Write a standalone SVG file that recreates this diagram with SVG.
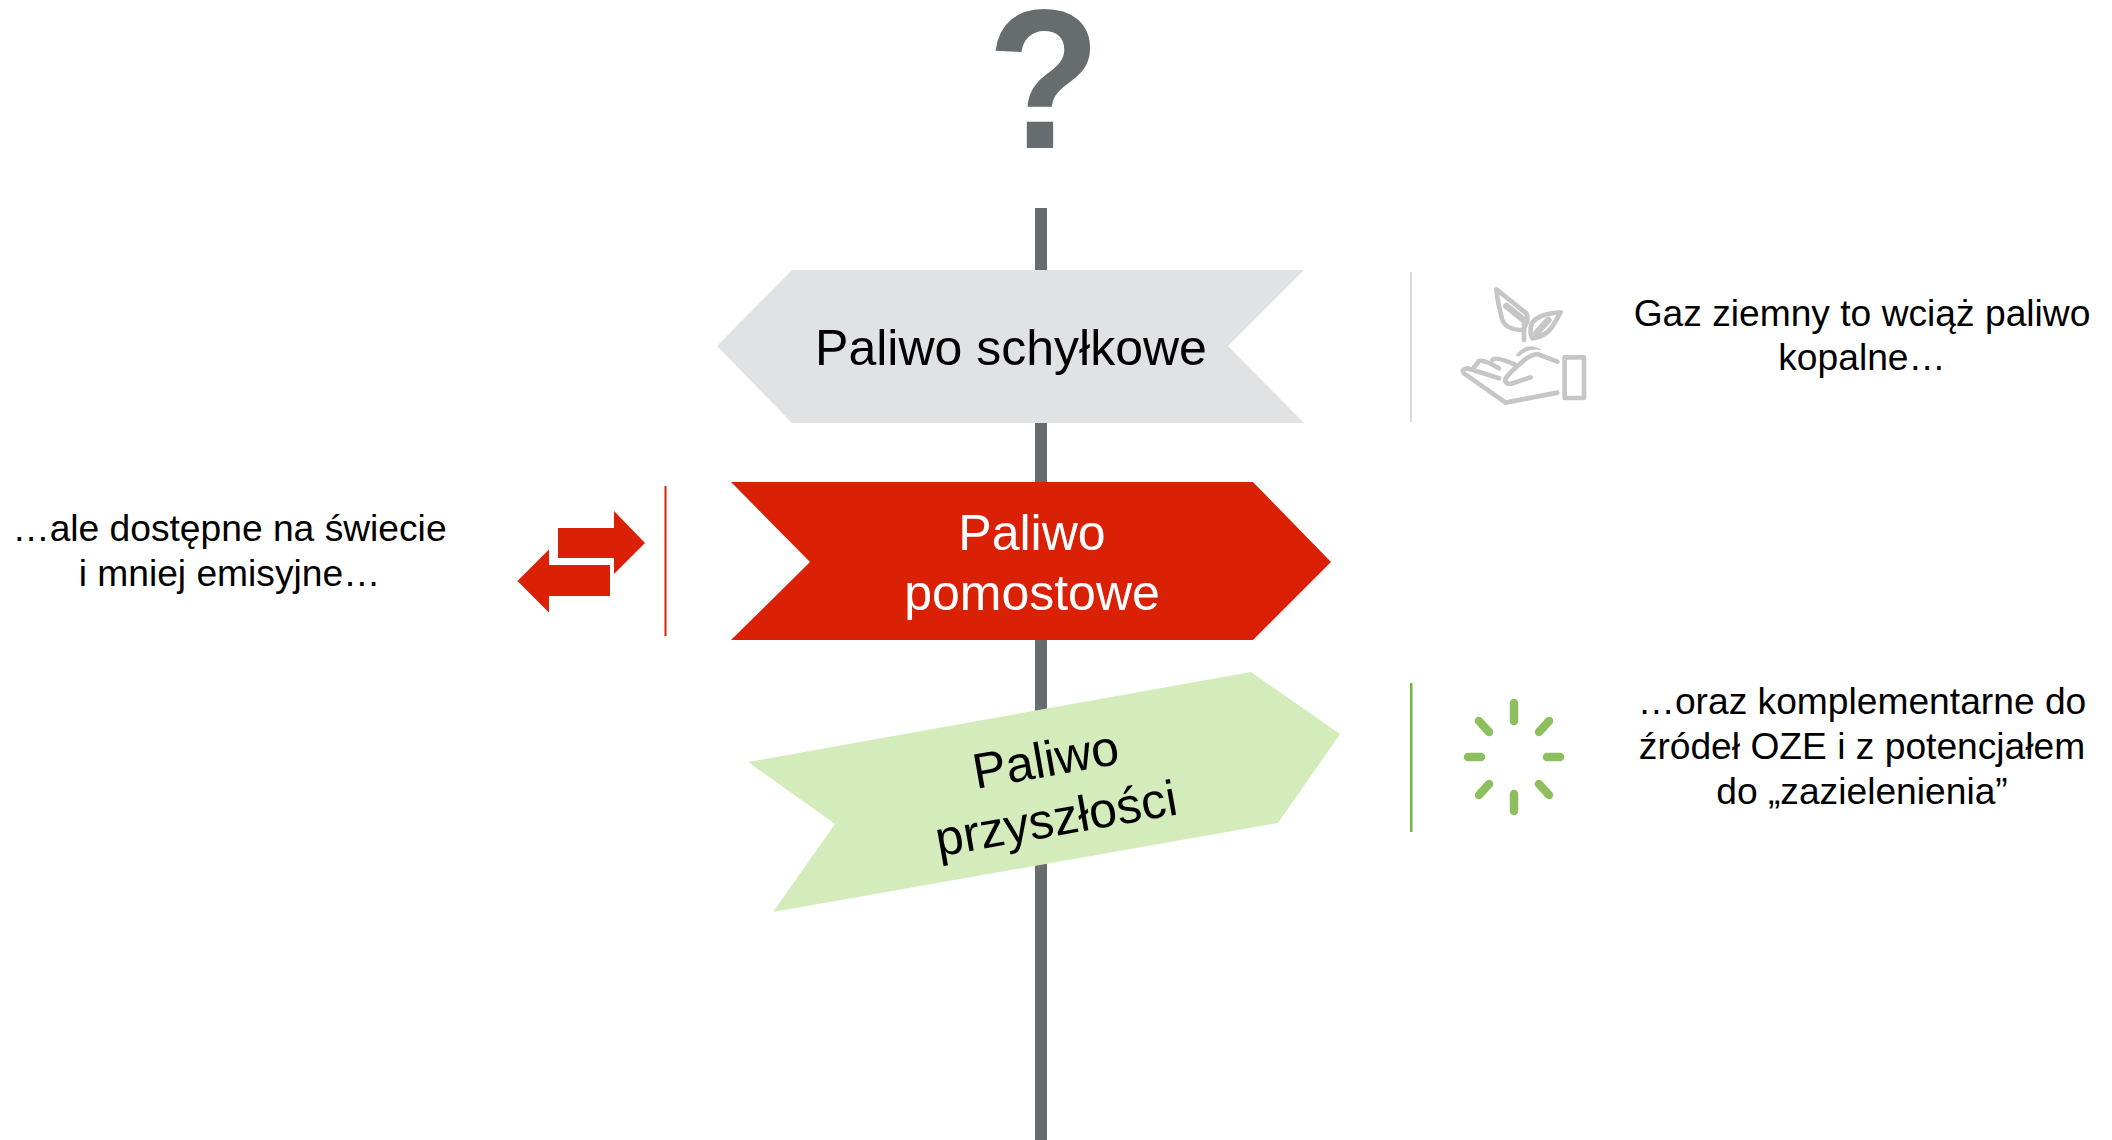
<svg xmlns="http://www.w3.org/2000/svg" width="2112" height="1140" viewBox="0 0 2112 1140">
<style>
text{font-family:"Liberation Sans",Arial,sans-serif;text-anchor:middle;fill:#000}
.big{font-size:50px}
.small{font-size:37.2px}
.ic{fill:none;stroke:#c6c6c6;stroke-width:14;stroke-linecap:round;stroke-linejoin:round}
.sp{stroke:#8dbf5e;stroke-width:8.500;stroke-linecap:round}
</style>
<rect width="2112" height="1140" fill="#fff"/>
<g id="pole"><rect x="1035" y="208" width="12" height="932" fill="#676c6e"/></g>
<g id="question-mark"><text transform="translate(1044,147.500) scale(.97,1.03)" x="0" y="0" style="font-size:192px;font-weight:700;fill:#676c6e">?</text></g>
<g id="sign-schylkowe">
<polygon points="717,346 792,270 1304,270 1228,346 1304,423 792,423" fill="#e1e2e4"/>
<text class="big" x="1011" y="365">Paliwo schyłkowe</text>
</g>
<g id="sign-pomostowe">
<polygon points="731,482 1253,482 1331,562 1253,640 731,640 810,562" fill="#da2005"/>
<text class="big" x="1032" y="550" style="fill:#fff">Paliwo</text>
<text class="big" x="1032" y="610" style="fill:#fff">pomostowe</text>
</g>
<g id="sign-przyszlosci">
<polygon points="748,762 1251,672 1340,734 1278,823 773,912 835,824" fill="#d4ecbb"/>
<g transform="rotate(-10 1051 790)">
<text class="big" x="1051" y="776">Paliwo</text>
<text class="big" x="1051" y="836">przyszłości</text>
</g>
</g>
<g id="note-gaz">
<rect x="1410" y="272" width="2" height="150" fill="#dcdcdc"/>
<g transform="translate(1449,280) scale(.3333)">
<path class="ic" d="M142,28 L232,100 Q242,118 222,150 Q172,150 160,120 Q146,70 142,28Z"/>
<path class="ic" style="stroke-width:20" d="M172,78 L222,118"/>
<path class="ic" d="M225,180 L225,120"/>
<path class="ic" d="M335,97 Q270,100 248,130 Q240,160 250,175 Q290,170 310,140 Q325,115 335,97Z"/>
<path class="ic" style="stroke-width:20" d="M262,160 L298,120"/>
<path d="M200,226 Q235,182 278,210 Q235,202 210,230Z" fill="#c6c6c6"/>
<path class="ic" d="M325,245 L265,222 Q240,225 215,250 Q185,275 170,295 Q165,312 185,312 L245,292"/>
<path class="ic" d="M325,338 L170,368 L45,280 Q35,268 55,265 L150,295"/>
<path class="ic" d="M75,262 L90,243 Q105,238 150,265"/>
<path class="ic" d="M130,240 Q140,228 200,255"/>
<rect class="ic" x="347" y="232" width="58" height="122"/>
</g>
<text class="small" x="1862" y="326">Gaz ziemny to wciąż paliwo</text>
<text class="small" x="1862" y="370">kopalne…</text>
</g>
<g id="note-dostepne">
<rect x="664.500" y="486" width="2" height="150" fill="#da2005"/>
<polygon points="558,528 614,528 614,511 645,543 614,574 614,558 558,558" fill="#da2005"/>
<polygon points="611,564 550,564 550,547 516,581 550,615 550,597 611,597" fill="#da2005" stroke="#fff" stroke-width="2"/>
<text class="small" x="229.500" y="541">…ale dostępne na świecie</text>
<text class="small" x="229.500" y="586">i mniej emisyjne…</text>
</g>
<g id="note-oze">
<rect x="1410" y="683" width="2.500" height="149" fill="#7cb342"/>
<g transform="translate(1514,757)">
<line class="sp" x1="0" y1="-54" x2="0" y2="-36"/>
<line class="sp" x1="0" y1="54" x2="0" y2="37"/>
<line class="sp" x1="-46" y1="0" x2="-33" y2="0"/>
<line class="sp" x1="46" y1="0" x2="33" y2="0"/>
<line class="sp" x1="25" y1="-25" x2="35" y2="-36"/>
<line class="sp" x1="-25" y1="-25" x2="-35" y2="-36"/>
<line class="sp" x1="25" y1="27" x2="35" y2="38"/>
<line class="sp" x1="-25" y1="27" x2="-35" y2="38"/>
</g>
<text class="small" x="1862" y="714">…oraz komplementarne do</text>
<text class="small" x="1862" y="759">źródeł OZE i z potencjałem</text>
<text class="small" x="1862" y="804">do „zazielenienia”</text>
</g>
<g id="connectors"/>
</svg>
